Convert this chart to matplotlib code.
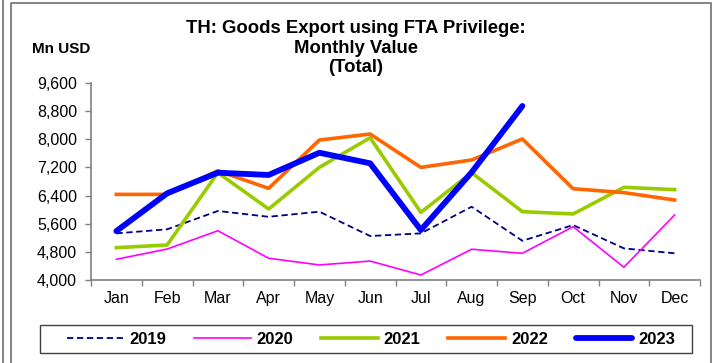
import numpy as np
import matplotlib
matplotlib.use("Agg")
import matplotlib.pyplot as plt
from matplotlib.lines import Line2D
from matplotlib.patches import Rectangle

plt.rcParams['font.family'] = ['Liberation Sans', 'DejaVu Sans']

months = ["Jan", "Feb", "Mar", "Apr", "May", "Jun", "Jul", "Aug", "Sep", "Oct", "Nov", "Dec"]
y2019 = [5330, 5445, 5965, 5800, 5945, 5255, 5330, 6085, 5120, 5565, 4905, 4765]
y2020 = [4595, 4885, 5405, 4625, 4435, 4545, 4150, 4880, 4765, 5520, 4370, 5850]
y2021 = [4925, 5000, 7050, 6020, 7200, 8040, 5925, 7050, 5945, 5880, 6635, 6570]
y2022 = [6435, 6435, 7105, 6605, 7975, 8145, 7200, 7410, 8005, 6595, 6485, 6275]
y2023 = [5395, 6465, 7050, 6985, 7615, 7315, 5425, 7060, 8940]
yticks = [4000, 4800, 5600, 6400, 7200, 8000, 8800, 9600]

W, H = 712, 363
fig = plt.figure(figsize=(W / 100, H / 100), dpi=100)
ax = fig.add_axes([91 / W, 1 - 280.3 / H, (700 - 91) / W, (280.3 - 82.7) / H])

x = np.arange(len(months))
ax.plot(x, y2019, color='#000080', lw=1.3, ls=(0, (3.5, 2)), label='2019')
ax.plot(x, y2020, color='#FF00FF', lw=1.2, label='2020')
ax.plot(x, y2021, color='#99CC00', lw=2.6, label='2021')
ax.plot(x, y2022, color='#FF6600', lw=2.6, label='2022')
ax.plot(x[:len(y2023)], y2023, color='#0000FF', lw=4.2, solid_capstyle='round', label='2023')

ax.set_xlim(-0.5, 11.5)
ax.set_ylim(4000, 9600)
ax.set_yticks(yticks)
ax.set_yticklabels([f"{v:,}" for v in yticks], fontsize=11.5)
ax.set_xticks(x)
ax.set_xticklabels(months, fontsize=11.5)
ax.set_xticks(np.arange(-0.5, 12, 1), minor=True)
ax.tick_params(axis='x', which='major', length=0, pad=8)
ax.tick_params(axis='x', which='minor', length=4, width=1, color='#808080', direction='out')
ax.tick_params(axis='y', length=4, width=1, color='#808080', pad=6)
for s in ['top', 'right']:
    ax.spines[s].set_visible(False)
for s in ['left', 'bottom']:
    ax.spines[s].set_color('#808080')
    ax.spines[s].set_linewidth(1.2)

title_lines = ["TH: Goods Export using FTA Privilege:", "Monthly Value", "(Total)"]
for line, base in zip(title_lines, [33.3, 52.7, 71.7]):
    fig.text(356 / W, 1 - base / H, line, ha='center', va='baseline', fontsize=13.3, fontweight='bold')
fig.text(32 / W, 1 - 49 / H, "Mn USD", ha='left', va='center', fontsize=11, fontweight='bold')

leg = fig.legend(loc='center', bbox_to_anchor=(67 / W, 1 - 353 / H, (675 - 67) / W, 28 / H), mode='expand',
                 ncol=5, prop={'weight': 'bold', 'size': 12}, frameon=False,
                 handlelength=3.4, handletextpad=0.35, borderpad=0, borderaxespad=0)
fig.add_artist(Rectangle((40 / W, 1 - 353 / H), 652 / W, 28 / H, transform=fig.transFigure,
                         fill=False, edgecolor='#404040', lw=1.0))

# outer frame
fig.add_artist(Line2D([3 / W, 3 / W], [0, 1], transform=fig.transFigure, color='#707070', lw=1.2))
fig.add_artist(Line2D([11 / W, 11 / W, 711 / W, 711 / W], [0, 1 - 3 / H, 1 - 3 / H, 0],
                      transform=fig.transFigure, color='#707070', lw=1.2))

fig.savefig("out.png", dpi=100)
